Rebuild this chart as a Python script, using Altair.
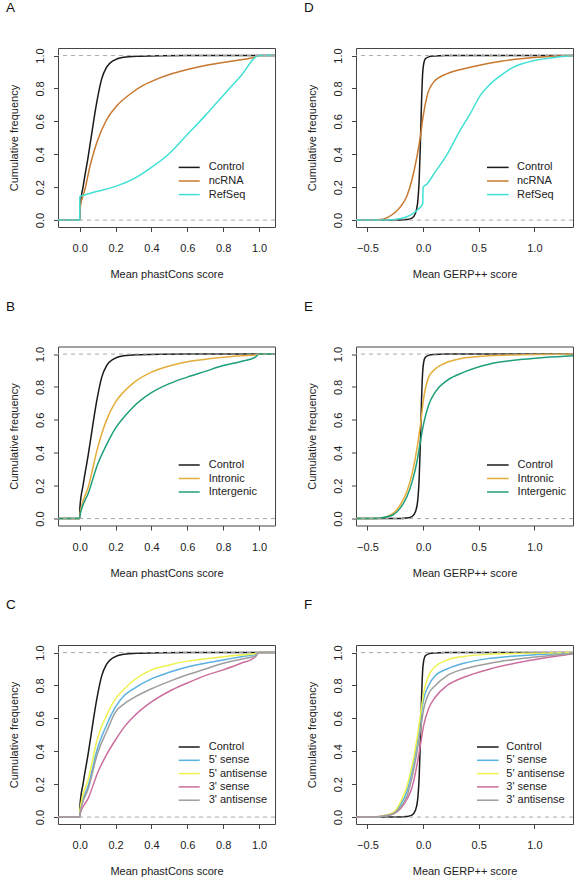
import altair as alt
import pandas as pd

FONT = "Liberation Sans"
W, H = 217, 179

# ---------------- axes / domains ----------------
PH_XDOM = [-0.121, 1.089]
GE_XDOM = [-0.603, 1.347]
Y_DOM = [-0.042, 1.046]
PH_TICKS = [0.0, 0.2, 0.4, 0.6, 0.8, 1.0]
GE_TICKS = [-0.5, 0.0, 0.5, 1.0]
Y_TICKS = [0.0, 0.2, 0.4, 0.6, 0.8, 1.0]
REF_LINES = [0.0, 1.0]

# ---------------- phastCons (A, B, C) ----------------
ph_control_x = [-0.121, 0.0, 0.001, 0.02, 0.048, 0.076, 0.095, 0.123, 0.15, 0.188, 0.244, 0.337, 0.45, 0.6, 1.0, 1.089]
ph_control_y = [0.0, 0.0, 0.065, 0.21, 0.39, 0.59, 0.715, 0.86, 0.93, 0.97, 0.99, 0.996, 0.999, 1.0, 1.0, 1.0]

a_ncrna_x = [-0.121, 0.0, 0.001, 0.03, 0.058, 0.095, 0.15, 0.207, 0.28, 0.356, 0.43, 0.5, 0.6, 0.7, 0.8, 0.9, 0.97, 1.0, 1.089]
a_ncrna_y = [0.0, 0.0, 0.065, 0.19, 0.33, 0.47, 0.61, 0.695, 0.765, 0.82, 0.857, 0.885, 0.915, 0.94, 0.958, 0.975, 0.988, 1.0, 1.0]

a_refseq_x = [-0.121, 0.0, 0.001, 0.05, 0.1, 0.2, 0.3, 0.4, 0.5, 0.6, 0.7, 0.8, 0.9, 1.0, 1.089]
a_refseq_y = [0.0, 0.0, 0.142, 0.16, 0.175, 0.205, 0.25, 0.32, 0.405, 0.52, 0.635, 0.757, 0.878, 1.0, 1.0]

ph_grid_x = [-0.121, 0.0, 0.001, 0.05, 0.1, 0.15, 0.2, 0.25, 0.3, 0.4, 0.5, 0.6, 0.7, 0.8, 0.9, 0.98, 1.0, 1.089]

b_intronic_y = [0.0, 0.0, 0.024, 0.2, 0.43, 0.6, 0.71, 0.775, 0.825, 0.89, 0.928, 0.953, 0.968, 0.98, 0.99, 0.995, 1.0, 1.0]
b_intergenic_y = [0.0, 0.0, 0.015, 0.16, 0.33, 0.45, 0.55, 0.62, 0.68, 0.765, 0.82, 0.86, 0.895, 0.93, 0.955, 0.982, 1.0, 1.0]

c_5sense_y = [0.0, 0.0, 0.03, 0.2, 0.42, 0.56, 0.67, 0.74, 0.78, 0.84, 0.88, 0.912, 0.935, 0.955, 0.975, 0.99, 1.0, 1.0]
c_5anti_y = [0.0, 0.0, 0.04, 0.24, 0.48, 0.62, 0.72, 0.78, 0.83, 0.895, 0.925, 0.948, 0.962, 0.975, 0.985, 0.995, 1.0, 1.0]
c_3sense_y = [0.0, 0.0, 0.015, 0.12, 0.27, 0.38, 0.47, 0.55, 0.61, 0.70, 0.765, 0.815, 0.86, 0.895, 0.935, 0.975, 1.0, 1.0]
c_3anti_y = [0.0, 0.0, 0.02, 0.18, 0.39, 0.52, 0.64, 0.69, 0.725, 0.78, 0.825, 0.865, 0.9, 0.935, 0.96, 0.98, 1.0, 1.0]

# ---------------- GERP++ (D, E, F) ----------------
ge_control_x = [-0.603, -0.2, -0.15, -0.1, -0.07, -0.05, -0.035, -0.025, -0.015, -0.005, 0.005, 0.02, 0.05, 0.1, 0.2, 1.347]
ge_control_y = [0.0, 0.0, 0.003, 0.012, 0.04, 0.1, 0.25, 0.45, 0.7, 0.88, 0.95, 0.98, 0.992, 0.997, 1.0, 1.0]

d_ncrna_x = [-0.603, -0.45, -0.384, -0.264, -0.204, -0.144, -0.1, -0.054, -0.024, 0.0, 0.036, 0.096, 0.216, 0.366, 0.516, 0.7, 0.9, 1.1, 1.347]
d_ncrna_y = [0.0, 0.0, 0.003, 0.04, 0.08, 0.15, 0.245, 0.39, 0.51, 0.63, 0.755, 0.84, 0.89, 0.92, 0.943, 0.965, 0.982, 0.993, 1.0]

d_refseq_x = [-0.603, -0.35, -0.2, -0.114, -0.054, -0.003, 0.0, 0.036, 0.096, 0.216, 0.336, 0.426, 0.516, 0.6, 0.7, 0.8, 1.0, 1.2, 1.347]
d_refseq_y = [0.0, 0.0, 0.01, 0.03, 0.06, 0.10, 0.20, 0.22, 0.28, 0.40, 0.55, 0.65, 0.76, 0.825, 0.88, 0.925, 0.97, 0.99, 1.0]

ge_grid_x = [-0.603, -0.45, -0.384, -0.264, -0.204, -0.144, -0.1, -0.054, -0.024, 0.006, 0.05, 0.11, 0.216, 0.366, 0.6, 0.9, 1.347]

e_intronic_y = [0.0, 0.0, 0.003, 0.035, 0.085, 0.167, 0.27, 0.43, 0.57, 0.735, 0.86, 0.91, 0.95, 0.976, 0.99, 0.996, 1.0]
e_intergenic_y = [0.0, 0.0, 0.003, 0.025, 0.065, 0.136, 0.22, 0.35, 0.47, 0.58, 0.69, 0.77, 0.84, 0.89, 0.94, 0.968, 0.99]

f_5sense_y = [0.0, 0.0, 0.004, 0.028, 0.075, 0.16, 0.28, 0.45, 0.59, 0.72, 0.8, 0.86, 0.9, 0.935, 0.965, 0.982, 0.997]
f_5anti_y = [0.0, 0.0, 0.004, 0.03, 0.09, 0.19, 0.31, 0.48, 0.62, 0.76, 0.86, 0.915, 0.955, 0.976, 0.99, 0.996, 1.0]
f_3sense_y = [0.0, 0.0, 0.003, 0.02, 0.05, 0.11, 0.18, 0.32, 0.44, 0.56, 0.66, 0.73, 0.8, 0.85, 0.9, 0.945, 0.993]
f_3anti_y = [0.0, 0.0, 0.003, 0.022, 0.06, 0.13, 0.24, 0.4, 0.53, 0.66, 0.75, 0.8, 0.86, 0.9, 0.935, 0.965, 0.995]

# ---------------- series names / colours ----------------
C_CONTROL = "#1a1a1a"
PANELS = [
    dict(letter="A", xdom=PH_XDOM, xticks=PH_TICKS, xtitle="Mean phastCons score",
         names=["Control", "ncRNA", "RefSeq"],
         colors=[C_CONTROL, "#C8782F", "#40E0D5"],
         xs=[ph_control_x, a_ncrna_x, a_refseq_x],
         ys=[ph_control_y, a_ncrna_y, a_refseq_y],
         leg=(120.7, 141.7, 150.7, 119.4, 13.6)),
    dict(letter="D", xdom=GE_XDOM, xticks=GE_TICKS, xtitle="Mean GERP++ score",
         names=["Control", "ncRNA", "RefSeq"],
         colors=[C_CONTROL, "#C8782F", "#40E0D5"],
         xs=[ge_control_x, d_ncrna_x, d_refseq_x],
         ys=[ge_control_y, d_ncrna_y, d_refseq_y],
         leg=(131.0, 152.6, 161.0, 119.4, 13.6)),
    dict(letter="B", xdom=PH_XDOM, xticks=PH_TICKS, xtitle="Mean phastCons score",
         names=["Control", "Intronic", "Intergenic"],
         colors=[C_CONTROL, "#E5AD3B", "#1F9E7B"],
         xs=[ph_control_x, ph_grid_x, ph_grid_x],
         ys=[ph_control_y, b_intronic_y, b_intergenic_y],
         leg=(120.7, 141.7, 150.7, 118.5, 13.5)),
    dict(letter="E", xdom=GE_XDOM, xticks=GE_TICKS, xtitle="Mean GERP++ score",
         names=["Control", "Intronic", "Intergenic"],
         colors=[C_CONTROL, "#E5AD3B", "#1F9E7B"],
         xs=[ge_control_x, ge_grid_x, ge_grid_x],
         ys=[ge_control_y, e_intronic_y, e_intergenic_y],
         leg=(131.0, 152.6, 161.6, 118.5, 13.5)),
    dict(letter="C", xdom=PH_XDOM, xticks=PH_TICKS, xtitle="Mean phastCons score",
         names=["Control", "5' sense", "5' antisense", "3' sense", "3' antisense"],
         colors=[C_CONTROL, "#5AB2E0", "#EEF24C", "#CC6E9E", "#9E9E9E"],
         xs=[ph_control_x, ph_grid_x, ph_grid_x, ph_grid_x, ph_grid_x],
         ys=[ph_control_y, c_5sense_y, c_5anti_y, c_3sense_y, c_3anti_y],
         leg=(120.7, 141.7, 150.7, 102.0, 13.3)),
    dict(letter="F", xdom=GE_XDOM, xticks=GE_TICKS, xtitle="Mean GERP++ score",
         names=["Control", "5' sense", "5' antisense", "3' sense", "3' antisense"],
         colors=[C_CONTROL, "#5AB2E0", "#EEF24C", "#CC6E9E", "#9E9E9E"],
         xs=[ge_control_x, ge_grid_x, ge_grid_x, ge_grid_x, ge_grid_x],
         ys=[ge_control_y, f_5sense_y, f_5anti_y, f_3sense_y, f_3anti_y],
         leg=(121.0, 142.6, 150.3, 102.0, 13.3)),
]

TXT = "#222222"
LW = 1.5


def make_panel(p, anchor=False):
    xaxis = alt.Axis(values=p["xticks"], format=".1f", title=p["xtitle"],
                     labelAlign="center", labelBaseline="alphabetic", labelPadding=20.2,
                     titleX=W / 2, titleY=50.7, titleAlign="center", titleBaseline="alphabetic",
                     titleAngle=0)
    yaxis = alt.Axis(values=Y_TICKS, format=".1f", title="Cumulative frequency",
                     labelAngle=270, labelAlign="center", labelBaseline="alphabetic",
                     labelPadding=10.3,
                     titleAngle=270, titleX=-41, titleY=H / 2, titleAlign="center",
                     titleBaseline="alphabetic")
    xscale = alt.Scale(domain=p["xdom"], nice=False, zero=False)
    yscale = alt.Scale(domain=Y_DOM, nice=False, zero=False)
    xenc = alt.X("x:Q", scale=xscale, axis=xaxis)
    yenc = alt.Y("y:Q", scale=yscale, axis=yaxis)

    layers = []
    for name, col, xs, ys in zip(p["names"], p["colors"], p["xs"], p["ys"]):
        df = pd.DataFrame({"x": xs, "y": ys, "i": list(range(len(xs))), "series": name})
        layers.append(
            alt.Chart(df).mark_line(color=col, strokeWidth=LW, interpolate="monotone")
            .encode(x=xenc, y=yenc, order="i:Q")
        )
    layers.append(
        alt.Chart(pd.DataFrame({"y": REF_LINES}))
        .mark_rule(color="#A8A8A8", strokeDash=[4, 4], strokeWidth=1)
        .encode(y=yenc)
    )
    lx1, lx2, tx, y0, dy = p["leg"]
    for k, (name, col) in enumerate(zip(p["names"], p["colors"])):
        legdf = pd.DataFrame({"label": [name]})
        yk = y0 + k * dy
        layers.append(
            alt.Chart(legdf).mark_rule(color=col, strokeWidth=LW)
            .encode(x=alt.value(lx1), x2=alt.value(lx2), y=alt.value(yk))
        )
        layers.append(
            alt.Chart(legdf).mark_text(align="left", baseline="middle", fontSize=11,
                                       font=FONT, color=TXT)
            .encode(x=alt.value(tx), y=alt.value(yk), text="label:N")
        )
    layers.append(
        alt.Chart(pd.DataFrame({"t": [p["letter"]]}))
        .mark_text(align="left", baseline="middle", fontSize=13.5, font=FONT, color="#111111")
        .encode(x=alt.value(-52), y=alt.value(-40), text="t:N")
    )
    if anchor:
        layers.append(
            alt.Chart(pd.DataFrame({"a": [0]}))
            .mark_rule(strokeOpacity=0, color="white")
            .encode(x=alt.value(-57.3), x2=alt.value(-56.3), y=alt.value(-47.3), y2=alt.value(-46.3))
        )
    return alt.layer(*layers).properties(width=W, height=H)


panels = [make_panel(p, anchor=(i == 0)) for i, p in enumerate(PANELS)]

chart = (
    alt.concat(*panels, columns=2, spacing={"row": 119.5, "column": 81}, bounds="flush")
    .properties(padding=0, background="white")
    .configure_view(stroke="#444444", strokeWidth=1)
    .configure_axis(domain=False, grid=False, ticks=True, tickSize=4.5, tickColor="#444444",
                    tickWidth=1, labelFont=FONT, labelFontSize=11, labelColor=TXT,
                    titleFont=FONT, titleFontSize=11, titleFontWeight="normal", titleColor=TXT,
                    labelFlush=False, labelOverlap=False, labelBound=False)
)

chart.save("out.html", embed_options={"renderer": "svg", "actions": False})
